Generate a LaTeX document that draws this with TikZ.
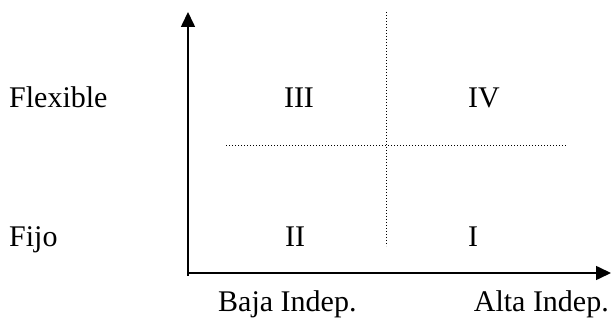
\documentclass[tikz,border=0pt]{standalone}
\usepackage{fontspec}
\setmainfont{Liberation Serif}
\usetikzlibrary{arrows.meta}
\begin{document}
\begin{tikzpicture}[x=1pt,y=-1pt,
  axis/.style={line width=1.6pt,-{Triangle[length=15pt,width=14pt]}},
  guide/.style={line width=1pt,dash pattern=on 1pt off 2pt},
  lbl/.style={font=\fontsize{30pt}{36pt}\selectfont,inner sep=0pt}]
\useasboundingbox (0,0) rectangle (611,320);
% axes
\coordinate (ybot) at (188,276);
\coordinate (ytop) at (188,12);
\coordinate (xstart) at (188,273);
\coordinate (xend) at (611,273);
\draw[axis] (ybot) -- (ytop);
\draw[axis] (xstart) -- (xend);
% guides
\coordinate (vtop) at (386,12);
\coordinate (vbot) at (386,246);
\coordinate (hleft) at (226,146);
\coordinate (hright) at (567,146);
\draw[guide] (vtop) -- (vbot);
\draw[guide] (hleft) -- (hright);
% labels
\node[lbl,anchor=base west] (flex) at (9,108) {Flexible};
\node[lbl,anchor=base west] (fijo) at (9,247) {Fijo};
\node[lbl,anchor=base] (q3) at (299,108) {III};
\node[lbl,anchor=base] (q4) at (484,108) {IV};
\node[lbl,anchor=base] (q2) at (295,247) {II};
\node[lbl,anchor=base] (q1) at (473,247) {I};
\node[lbl,anchor=base west] (baja) at (218,312) {Baja Indep.};
\node[lbl,anchor=base east] (alta) at (609,312) {Alta Indep.};
\end{tikzpicture}
\end{document}
